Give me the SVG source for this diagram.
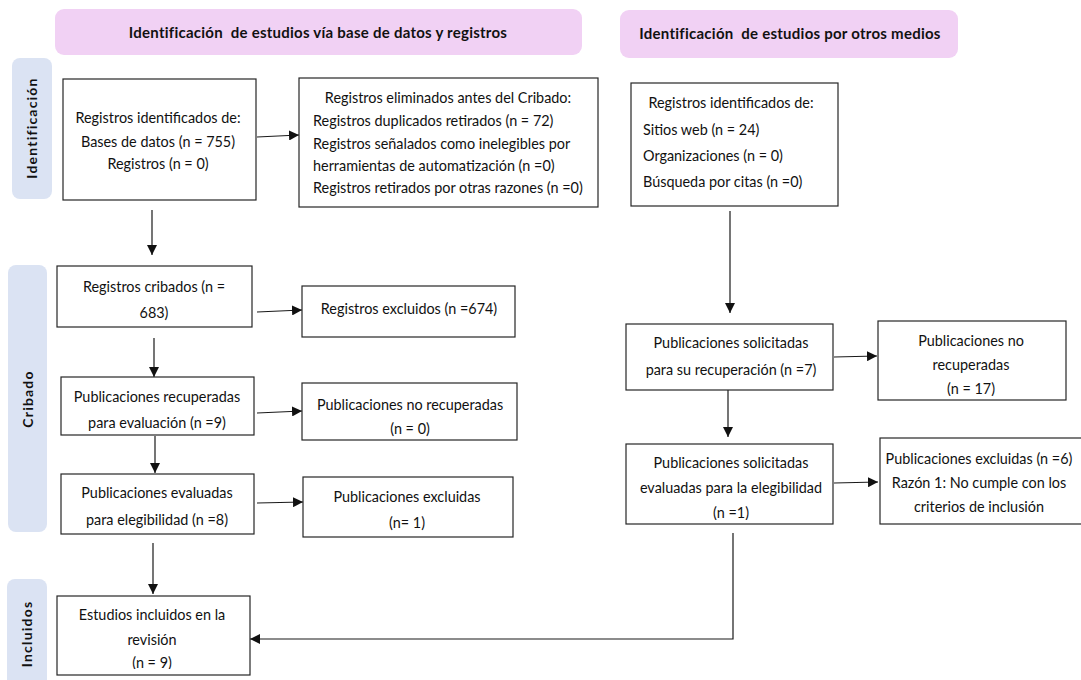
<svg xmlns="http://www.w3.org/2000/svg" width="1081" height="680" viewBox="0 0 1081 680">
<style>
.hdr{fill:#f1d1f4}
.side{fill:#dbe3f3}
.box{fill:#ffffff;stroke:#262626;stroke-width:1.2}
.t{font-family:Lato,"Open Sans","Liberation Sans",sans-serif;font-size:14.4px;fill:#111}
.c{text-anchor:middle}
.h{font-family:Lato,"Open Sans","Liberation Sans",sans-serif;font-size:15px;font-weight:bold;letter-spacing:0.25px;fill:#111;text-anchor:middle}
.s{font-family:Lato,"Open Sans","Liberation Sans",sans-serif;font-size:14px;font-weight:bold;letter-spacing:1.2px;fill:#111;text-anchor:middle}
.ln{fill:none;stroke:#1a1a1a;stroke-width:1.2}
</style>
<defs>
<marker id="ah" viewBox="0 0 10 10" refX="10" refY="5" markerWidth="10" markerHeight="10" markerUnits="userSpaceOnUse" orient="auto">
<path d="M0,0 L10,5 L0,10 Z" fill="#111"/>
</marker>
<clipPath id="cF"><rect x="61" y="377" width="193" height="54"/></clipPath>
<clipPath id="cG"><rect x="302" y="383" width="215" height="54"/></clipPath>
<clipPath id="cJ"><rect x="57" y="596" width="193" height="73"/></clipPath>
<clipPath id="cL"><rect x="878" y="321" width="188" height="75"/></clipPath>
<clipPath id="cM"><rect x="626" y="444" width="207" height="76"/></clipPath>
</defs>
<rect width="1081" height="680" fill="#fff"/>

<g id="header1"><rect class="hdr" x="55" y="9" width="527" height="46" rx="9"/><text class="h" x="318" y="38">Identificación&#160; de estudios vía base de datos y registros</text></g>
<g id="header2"><rect class="hdr" x="620" y="10" width="338" height="48" rx="9"/><text class="h" x="790" y="39">Identificación&#160; de estudios por otros medios</text></g>

<g id="side-identificacion"><rect class="side" x="12" y="58" width="40" height="141" rx="8"/><text class="s" transform="translate(37,128) rotate(-90)">Identificación</text></g>
<g id="side-cribado"><rect class="side" x="8" y="265" width="39" height="267" rx="8"/><text class="s" transform="translate(33,399) rotate(-90)">Cribado</text></g>
<g id="side-incluidos"><rect class="side" x="7" y="579" width="40" height="120" rx="8"/><text class="s" transform="translate(32,634) rotate(-90)">Incluidos</text></g>

<g id="connectors">
<line class="ln" x1="257" y1="137" x2="299" y2="135" marker-end="url(#ah)"/>
<line class="ln" x1="152" y1="210" x2="152" y2="255" marker-end="url(#ah)"/>
<line class="ln" x1="257" y1="312" x2="302" y2="310" marker-end="url(#ah)"/>
<line class="ln" x1="154" y1="338" x2="154" y2="377" marker-end="url(#ah)"/>
<line class="ln" x1="257" y1="413" x2="302" y2="411" marker-end="url(#ah)"/>
<line class="ln" x1="155" y1="436" x2="155" y2="473" marker-end="url(#ah)"/>
<line class="ln" x1="257" y1="503" x2="303" y2="502" marker-end="url(#ah)"/>
<line class="ln" x1="153" y1="543" x2="153" y2="594" marker-end="url(#ah)"/>
<line class="ln" x1="730" y1="211" x2="730" y2="313" marker-end="url(#ah)"/>
<line class="ln" x1="834" y1="357" x2="877" y2="356" marker-end="url(#ah)"/>
<line class="ln" x1="728" y1="390" x2="728" y2="437" marker-end="url(#ah)"/>
<line class="ln" x1="834" y1="483" x2="878" y2="482" marker-end="url(#ah)"/>
<polyline class="ln" points="733,533 733,639 250,639" marker-end="url(#ah)"/>
</g>

<g id="n-registros-identificados"><rect class="box" x="63" y="79" width="193" height="121"/>
<text class="t c" x="158" y="123">Registros identificados de:</text>
<text class="t c" x="158" y="147">Bases de datos (n = 755)</text>
<text class="t c" x="158" y="169">Registros (n = 0)</text></g>

<g id="n-registros-eliminados"><rect class="box" x="299" y="78" width="299" height="129"/>
<text class="t c" x="448" y="103">Registros eliminados antes del Cribado:</text>
<text class="t" x="313" y="126">Registros duplicados retirados (n = 72)</text>
<text class="t" x="313" y="149">Registros señalados como inelegibles por</text>
<text class="t" x="313" y="171">herramientas de automatización (n =0)</text>
<text class="t" x="313" y="193">Registros retirados por otras razones (n =0)</text></g>

<g id="n-otros-identificados"><rect class="box" x="631" y="83" width="207" height="123"/>
<text class="t c" x="731" y="108">Registros identificados de:</text>
<text class="t" x="643" y="135">Sitios web (n = 24)</text>
<text class="t" x="643" y="161">Organizaciones (n = 0)</text>
<text class="t" x="643" y="187">Búsqueda por citas (n =0)</text></g>

<g id="n-cribados"><rect class="box" x="57" y="266" width="195" height="61"/>
<text class="t c" x="154" y="292">Registros cribados (n =</text>
<text class="t c" x="154" y="318">683)</text></g>

<g id="n-excluidos"><rect class="box" x="302" y="286" width="213" height="51"/>
<text class="t c" x="409" y="314">Registros excluidos (n =674)</text></g>

<g id="n-recuperadas"><rect class="box" x="61" y="377" width="193" height="58"/>
<g clip-path="url(#cF)">
<text class="t c" x="157" y="402">Publicaciones recuperadas</text>
<text class="t c" x="157" y="428">para evaluación (n =9)</text></g></g>

<g id="n-no-recuperadas"><rect class="box" x="302" y="383" width="215" height="57"/>
<g clip-path="url(#cG)">
<text class="t c" x="410" y="410">Publicaciones no recuperadas</text>
<text class="t c" x="410" y="434">(n = 0)</text></g></g>

<g id="n-evaluadas"><rect class="box" x="61" y="474" width="193" height="60"/>
<text class="t c" x="157" y="498">Publicaciones evaluadas</text>
<text class="t c" x="157" y="525">para elegibilidad (n =8)</text></g>

<g id="n-excluidas"><rect class="box" x="303" y="477" width="210" height="60"/>
<text class="t c" x="407" y="502">Publicaciones excluidas</text>
<text class="t c" x="407" y="528">(n= 1)</text></g>

<g id="n-incluidos"><rect class="box" x="57" y="596" width="193" height="79"/>
<g clip-path="url(#cJ)">
<text class="t c" x="152" y="620">Estudios incluidos en la</text>
<text class="t c" x="152" y="645">revisión</text>
<text class="t c" x="152" y="668">(n = 9)</text></g></g>

<g id="n-solicitadas"><rect class="box" x="626" y="324" width="207" height="66"/>
<text class="t c" x="731" y="348">Publicaciones solicitadas</text>
<text class="t c" x="731" y="375">para su recuperación (n =7)</text></g>

<g id="n-no-recuperadas-2"><rect class="box" x="878" y="321" width="188" height="79"/>
<g clip-path="url(#cL)">
<text class="t c" x="971" y="346">Publicaciones no</text>
<text class="t c" x="971" y="370">recuperadas</text>
<text class="t c" x="971" y="394">(n = 17)</text></g></g>

<g id="n-solicitadas-evaluadas"><rect class="box" x="626" y="444" width="207" height="80"/>
<g clip-path="url(#cM)">
<text class="t c" x="731" y="468">Publicaciones solicitadas</text>
<text class="t c" x="731" y="493">evaluadas para la elegibilidad</text>
<text class="t c" x="731" y="518">(n =1)</text></g></g>

<g id="n-excluidas-2"><rect class="box" x="880" y="438" width="210" height="86"/>
<text class="t c" x="979" y="464">Publicaciones excluidas (n =6)</text>
<text class="t c" x="979" y="488">Razón 1: No cumple con los</text>
<text class="t c" x="979" y="512">criterios de inclusión</text></g>
</svg>
